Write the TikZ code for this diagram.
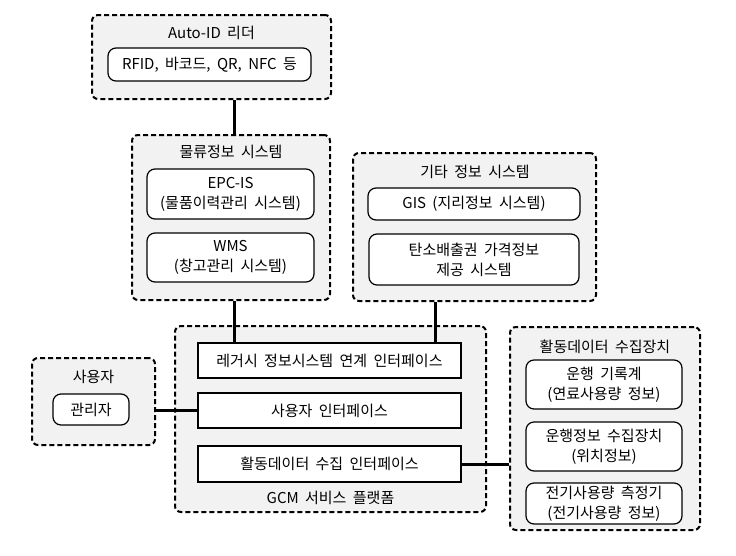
\documentclass[tikz,border=0pt]{standalone}
\usepackage{fontspec}
\setmainfont[WordSpace=1.9]{Noto Sans CJK KR}
\definecolor{boxgray}{HTML}{F2F2F2}
\tikzset{
  outerbox/.style={draw=black, fill=boxgray, line width=2pt, dash pattern=on 5pt off 3pt, rounded corners=6pt, inner sep=0pt},
  innerbox/.style={draw=black, fill=white, line width=1.2pt, rounded corners=8pt, inner sep=0pt, align=center},
  ifbox/.style={draw=black, fill=white, line width=1.2pt, inner sep=0pt, align=center},
  title/.style={inner sep=0pt, align=center},
  conn/.style={line width=3pt, line cap=butt}
}
\begin{document}
\begin{tikzpicture}[x=1pt, y=-1pt, font=\fontsize{15}{20}\selectfont]
\useasboundingbox (0,0) rectangle (736,555);
% outer boxes
\node[outerbox, minimum width=239pt, minimum height=84pt] (autoid) at (211.5,57) {};
\node[outerbox, minimum width=198pt, minimum height=165pt] (logi) at (231,217.5) {};
\node[outerbox, minimum width=243pt, minimum height=148pt] (etc) at (474.5,227) {};
\node[outerbox, minimum width=311pt, minimum height=186pt] (gcm) at (330.5,419) {};
\node[outerbox, minimum width=123pt, minimum height=87pt] (user) at (93.5,401.5) {};
\node[outerbox, minimum width=190pt, minimum height=203pt] (dev) at (605,428.5) {};
% titles
\node[title] (t1) at (211.5,33) {Auto-ID 리더};
\node[title] (t2) at (231,152) {물류정보 시스템};
\node[title] (t3) at (475,172) {기타 정보 시스템};
\node[title] (t4) at (330.5,498) {GCM 서비스 플랫폼};
\node[title] (t5) at (93.5,377) {사용자};
\node[title] (t6) at (605,347) {활동데이터 수집장치};
% inner boxes
\node[innerbox, minimum width=203pt, minimum height=33pt] (rfid) at (209.5,64.5) {RFID, 바코드, QR, NFC 등};
\node[innerbox, minimum width=167pt, minimum height=50pt] (epc) at (230.5,194) {EPC-IS\\(물품이력관리 시스템)};
\node[innerbox, minimum width=167pt, minimum height=49pt] (wms) at (230.5,257.5) {WMS\\(창고관리 시스템)};
\node[innerbox, minimum width=212pt, minimum height=32pt] (gis) at (474,204) {GIS (지리정보 시스템)};
\node[innerbox, minimum width=210pt, minimum height=51pt] (carbon) at (474,259.5) {탄소배출권 가격정보\\제공 시스템};
\node[innerbox, minimum width=76pt, minimum height=31pt] (admin) at (91,409.5) {관리자};
\node[innerbox, minimum width=156pt, minimum height=49pt] (d1) at (604,384.5) {운행 기록계\\(연료사용량 정보)};
\node[innerbox, minimum width=156pt, minimum height=49pt] (d2) at (604,446.5) {운행정보 수집장치\\(위치정보)};
\node[innerbox, minimum width=156pt, minimum height=41pt] (d3) at (604,503.5) {전기사용량 측정기\\(전기사용량 정보)};
\node[ifbox, minimum width=263pt, minimum height=35pt] (legacy) at (329.5,360.5) {레거시 정보시스템 연계 인터페이스};
\node[ifbox, minimum width=263pt, minimum height=35pt] (uif) at (329.5,410.5) {사용자 인터페이스};
\node[ifbox, minimum width=263pt, minimum height=36pt] (aif) at (329.5,464) {활동데이터 수집 인터페이스};
% connectors
\coordinate (cA) at (234,0);
\coordinate (cB) at (435,0);
\draw[conn] (autoid.south -| cA) -- (logi.north -| cA);
\draw[conn] (logi.south -| cA) -- (legacy.north -| cA);
\draw[conn] (etc.south -| cB) -- (legacy.north -| cB);
\draw[conn] (uif.west) -- (uif.west -| user.east);
\draw[conn] (aif.east) -- (aif.east -| dev.west);
\end{tikzpicture}
\end{document}
